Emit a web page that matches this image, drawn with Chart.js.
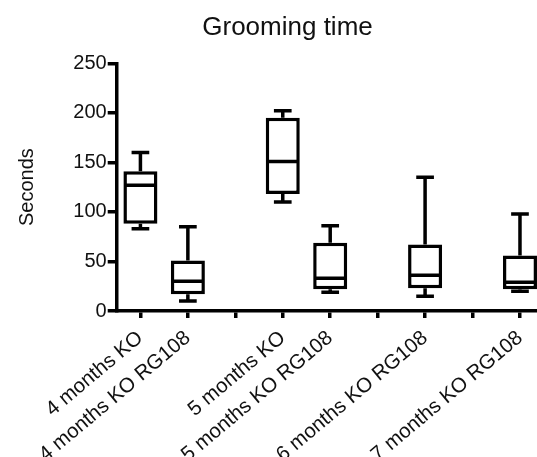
<!DOCTYPE html>
<html>
<head>
<meta charset="utf-8">
<script src="https://cdn.jsdelivr.net/npm/chart.js@4/dist/chart.umd.min.js"></script>
<style>
  html, body { margin: 0; padding: 0; background: #fff; overflow: hidden; }
  #wrap { width: 537px; height: 457px; overflow: hidden; position: relative; }
  #c { position: absolute; left: 0; top: 0; }
</style>
</head>
<body>
<div id="wrap"><canvas id="c" width="560" height="457"></canvas></div>
<script>
// ---- data ----
const categories = ['4 months KO', '4 months KO RG108', '', '5 months KO', '5 months KO RG108', '', '6 months KO RG108', '', '7 months KO RG108'];
const mins    = [83, 10, null, 110, 19, null, 15, null, 20];
const q1s     = [88, 17, null, 118, 22, null, 23, null, 22];
const medians = [127, 30, null, 151, 33, null, 36, null, 29];
const q3s     = [141, 51, null, 195, 69, null, 67, null, 56];
const maxs    = [160, 85, null, 202, 86, null, 135, null, 98];
const yTicks  = [0, 50, 100, 150, 200, 250];
const titleText = 'Grooming time';
const yTitle = 'Seconds';

const FONT = "'Liberation Sans', Arial, Helvetica, sans-serif";
const LW = 3.5;

const boxData = q1s.map((v, i) => (v == null ? null : [v, q3s[i]]));

const whiskerPlugin = {
  id: 'whiskers',
  afterDatasetsDraw(chart) {
    const { ctx, scales: { x, y } } = chart;
    const meta = chart.getDatasetMeta(0);
    ctx.save();
    ctx.strokeStyle = '#000';
    ctx.lineWidth = LW;
    ctx.lineCap = 'butt';
    categories.forEach((c, i) => {
      if (mins[i] == null) return;
      const el = meta.data[i];
      const cx = x.getPixelForValue(i);
      const half = el.width / 2;
      const capHalf = half * 0.52;
      const yMin = y.getPixelForValue(mins[i]);
      const yQ1 = y.getPixelForValue(q1s[i]);
      const yMed = y.getPixelForValue(medians[i]);
      const yQ3 = y.getPixelForValue(q3s[i]);
      const yMax = y.getPixelForValue(maxs[i]);
      ctx.beginPath();
      ctx.moveTo(cx, yQ3); ctx.lineTo(cx, yMax);
      ctx.moveTo(cx - capHalf, yMax); ctx.lineTo(cx + capHalf, yMax);
      ctx.moveTo(cx, yQ1); ctx.lineTo(cx, yMin);
      ctx.moveTo(cx - capHalf, yMin); ctx.lineTo(cx + capHalf, yMin);
      ctx.moveTo(cx - half + LW / 2, yMed); ctx.lineTo(cx + half - LW / 2, yMed);
      ctx.stroke();
    });
    ctx.restore();
  }
};

const PAD_L = 31.3;

new Chart(document.getElementById('c'), {
  type: 'bar',
  data: {
    labels: categories,
    datasets: [{
      data: boxData,
      backgroundColor: '#ffffff',
      borderColor: '#000000',
      borderWidth: LW,
      borderSkipped: false,
      barPercentage: 0.717,
      categoryPercentage: 1
    }]
  },
  options: {
    responsive: false,
    animation: false,
    layout: { padding: { left: PAD_L, right: 16.3, top: 0, bottom: 0 } },
    plugins: {
      legend: { display: false },
      tooltip: { enabled: false },
      title: {
        display: true,
        text: titleText,
        color: '#111',
        font: { family: FONT, size: 26, weight: 'normal' },
        padding: { top: 12, bottom: 20.1 }
      }
    },
    scales: {
      x: {
        offset: true,
        grid: { display: true, drawOnChartArea: false, drawTicks: true, tickLength: 7, lineWidth: LW, color: '#000', offset: false },
        border: { display: true, color: '#000', width: LW },
        ticks: {
          autoSkip: false, maxRotation: 40, minRotation: 40,
          color: '#111', padding: 8,
          font: { family: FONT, size: 20.5 }
        },
        afterFit(scale) { scale.height = 146; }
      },
      y: {
        min: 0, max: 250,
        afterBuildTicks(scale) { scale.ticks = yTicks.map(v => ({ value: v })); },
        grid: { display: true, drawOnChartArea: false, drawTicks: true, tickLength: 9, lineWidth: LW, color: '#000' },
        border: { display: true, color: '#000', width: LW },
        ticks: { color: '#111', padding: 1, font: { family: FONT, size: 20 } },
        title: {
          display: true, text: yTitle, color: '#111',
          font: { family: FONT, size: 20 },
          padding: { top: 27.5 - PAD_L - 12, bottom: 0 }
        },
        afterFit(scale) { scale.width = 116.7 - PAD_L; }
      }
    }
  },
  plugins: [whiskerPlugin]
});
</script>
</body>
</html>
